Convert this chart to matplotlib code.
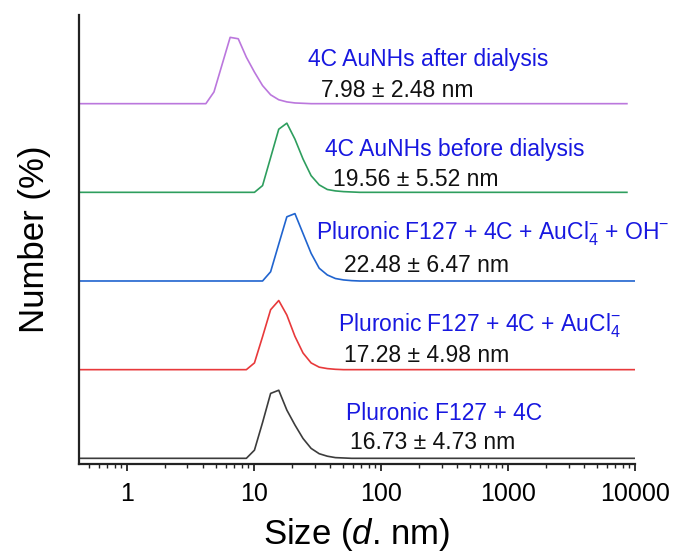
import numpy as np
import matplotlib
matplotlib.use("Agg")
import matplotlib.pyplot as plt
from matplotlib.ticker import LogLocator, NullFormatter, FixedLocator, FixedFormatter

plt.rcParams['font.family'] = ['Liberation Sans', 'DejaVu Sans']
plt.rcParams['mathtext.fontset'] = 'custom'
plt.rcParams['mathtext.rm'] = 'Liberation Sans'
plt.rcParams['mathtext.it'] = 'Liberation Sans:italic'
plt.rcParams['mathtext.default'] = 'regular'

# DLS size bins (nm)
size_bins = [0.4, 0.4632, 0.5365, 0.6213, 0.7195, 0.8332, 0.9649, 1.117, 1.294, 1.499,
             1.736, 2.010, 2.328, 2.696, 3.122, 3.615, 4.187, 4.849, 5.615, 6.503,
             7.531, 8.721, 10.10, 11.70, 13.54, 15.69, 18.17, 21.04, 24.36, 28.21,
             32.67, 37.84, 43.82, 50.75, 58.77, 68.06, 78.82, 91.28, 105.7, 122.4,
             141.8, 164.2, 190.1, 220.2, 255.0, 295.3, 342.0, 396.1, 458.7, 531.2,
             615.1, 712.4, 825.0, 955.4, 1106, 1281, 1484, 1718, 1990, 2305,
             2669, 3091, 3580, 4145, 4801, 5560, 6439, 7456, 8635, 10000]

nan = np.nan
# Number (%) for each sample (70 bins each)
f127_4c = [0, 0, 0, 0, 0, 0, 0, 0, 0, 0,
           0, 0, 0, 0, 0, 0, 0, 0, 0, 0,
           0, 0, 2.3, 10.1, 18.3, 19.2, 13.6, 9.4, 5.6, 2.8,
           1.3, 0.6, 0.2, 0.1, 0, 0, 0, 0, 0, 0,
           0, 0, 0, 0, 0, 0, 0, 0, 0, 0,
           0, 0, 0, 0, 0, 0, 0, 0, 0, 0,
           0, 0, 0, 0, 0, 0, 0, 0, 0, 0]
f127_4c_aucl4 = [0, 0, 0, 0, 0, 0, 0, 0, 0, 0,
                 0, 0, 0, 0, 0, 0, 0, 0, 0, 0,
                 0, 0, 1.9, 9.3, 16.9, 19.5, 15.4, 9.4, 4.7, 1.9,
                 0.7, 0.3, 0.1, 0, 0, 0, 0, 0, 0, 0,
                 0, 0, 0, 0, 0, 0, 0, 0, 0, 0,
                 0, 0, 0, 0, 0, 0, 0, 0, 0, 0,
                 0, 0, 0, 0, 0, 0, 0, 0, 0, 0]
f127_4c_aucl4_oh = [0, 0, 0, 0, 0, 0, 0, 0, 0, 0,
                    0, 0, 0, 0, 0, 0, 0, 0, 0, 0,
                    0, 0, 0, 0, 2.6, 10.4, 18.1, 19.0, 13.4, 7.8,
                    3.6, 1.7, 0.7, 0.3, 0.1, 0, 0, 0, 0, 0,
                    0, 0, 0, 0, 0, 0, 0, 0, 0, 0,
                    0, 0, 0, 0, 0, 0, 0, 0, 0, 0,
                    0, 0, 0, 0, 0, 0, 0, 0, 0, 0]
aunh_before = [0, 0, 0, 0, 0, 0, 0, 0, 0, 0,
               0, 0, 0, 0, 0, 0, 0, 0, 0, 0,
               0, 0, 0, 1.9, 9.8, 17.8, 19.5, 15.0, 9.4, 4.7,
               2.1, 0.8, 0.4, 0.2, 0.1, 0, 0, 0, 0, 0,
               0, 0, 0, 0, 0, 0, 0, 0, 0, 0,
               0, 0, 0, 0, 0, 0, 0, 0, 0, 0,
               0, 0, 0, 0, 0, 0, 0, 0, 0, nan]
aunh_after = [0, 0, 0, 0, 0, 0, 0, 0, 0, 0,
              0, 0, 0, 0, 0, 0, 0, 3.3, 11.0, 18.7,
              18.3, 13.1, 8.9, 5.1, 2.5, 1.1, 0.5, 0.2, 0.1, 0,
              0, 0, 0, 0, 0, 0, 0, 0, 0, 0,
              0, 0, 0, 0, 0, 0, 0, 0, 0, 0,
              0, 0, 0, 0, 0, 0, 0, 0, 0, 0,
              0, 0, 0, 0, 0, 0, 0, 0, 0, nan]

series = [f127_4c, f127_4c_aucl4, f127_4c_aucl4_oh, aunh_before, aunh_after]
colors = ['#3c3c3c', '#e8393b', '#2064cf', '#2e9e5e', '#bb77dd']
names = ['Pluronic F127 + 4C',
         'Pluronic F127 + 4C + AuCl$_4^{-}$',
         'Pluronic F127 + 4C + AuCl$_4^{-}$ + OH$^{-}$',
         '4C AuNHs before dialysis',
         '4C AuNHs after dialysis']
sizes_txt = ['16.73 ± 4.73 nm', '17.28 ± 4.98 nm', '22.48 ± 6.47 nm',
             '19.56 ± 5.52 nm', '7.98 ± 2.48 nm']
offset_step = 25

W, H = 676, 558
fig = plt.figure(figsize=(W / 100, H / 100), dpi=100)
ax = fig.add_axes([79 / W, 1 - 464 / H, (635 - 79) / W, (464 - 15) / H])

x = np.array(size_bins)
for i, (vals, c) in enumerate(zip(series, colors)):
    ax.plot(x, np.array(vals, dtype=float) + i * offset_step, color=c, lw=1.2)

ax.set_xscale('log')
ax.set_xlim(0.42, 10000)
ax.set_ylim(-1.6, 125)
ax.set_yticks([])
ax.xaxis.set_major_locator(FixedLocator([1, 10, 100, 1000, 10000]))
ax.xaxis.set_major_formatter(FixedFormatter(['1', '10', '100', '1000', '10000']))
ax.xaxis.set_minor_locator(LogLocator(base=10, subs=np.arange(2, 10), numticks=20))
ax.xaxis.set_minor_formatter(NullFormatter())
ax.tick_params(axis='x', which='major', direction='out', length=5, width=1.3,
               labelsize=18, pad=8, color='#222222')
ax.tick_params(axis='x', which='minor', direction='out', length=3, width=1.0,
               color='#222222')
for s in ['top', 'right']:
    ax.spines[s].set_visible(False)
for s in ['left', 'bottom']:
    ax.spines[s].set_linewidth(1.6)
    ax.spines[s].set_color('#222222')

ax.set_xlabel('Size ($\\mathit{d}$. nm)', fontsize=25, labelpad=7)
ax.set_ylabel('Number (%)', fontsize=25, labelpad=20)

# annotations (pixel positions: left x, baseline y)
name_pos = [(346, 420), (338, 332), (316, 239), (325, 156), (308, 66)]
size_pos = [(350, 449), (344, 362), (344, 272), (333, 186), (321, 97)]
for nm, (px, py) in zip(names, name_pos):
    fig.text(px / W, 1 - py / H, nm, color='#1818e0', fontsize=16.5,
             ha='left', va='baseline')
for st, (px, py) in zip(sizes_txt, size_pos):
    fig.text(px / W, 1 - py / H, st, color='#111111', fontsize=16.5,
             ha='left', va='baseline')

fig.savefig('out.png', dpi=100)
